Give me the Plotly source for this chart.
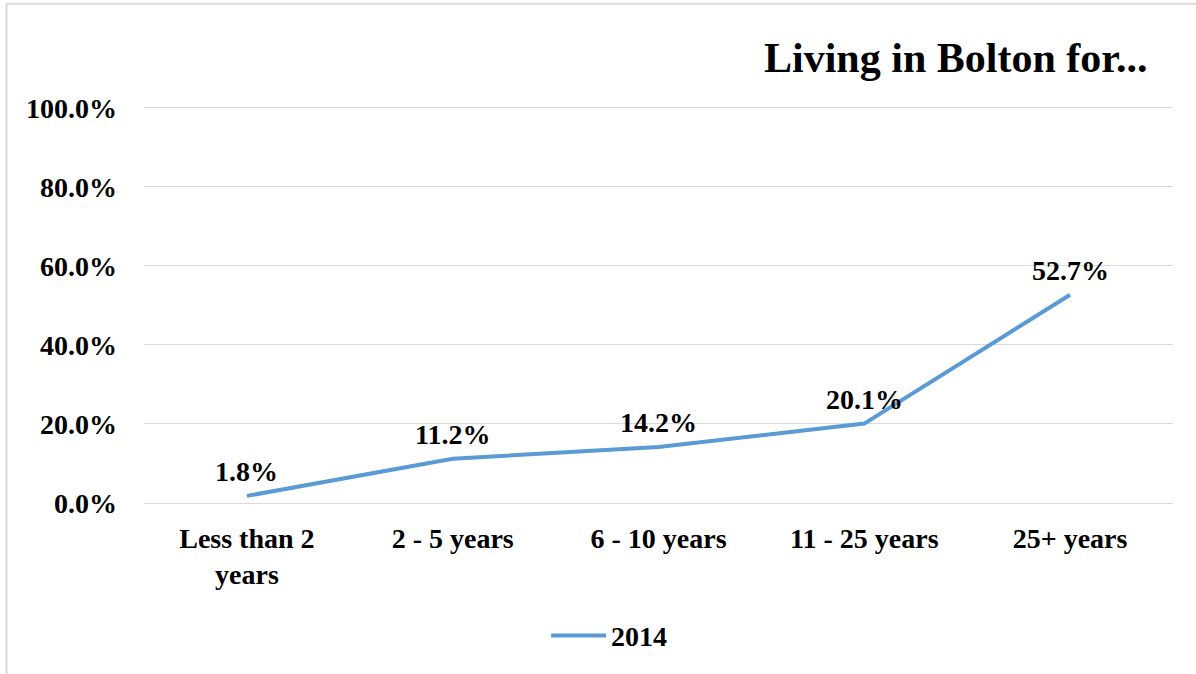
import plotly.graph_objects as go

# Chart data
categories = ['Less than 2<br>years', '2 - 5 years', '6 - 10 years', '11 - 25 years', '25+ years']
share_2014 = [0.018, 0.112, 0.142, 0.201, 0.527]
y_ticks = [0, 0.2, 0.4, 0.6, 0.8, 1.0]

font_family = 'Liberation Serif'
blue = '#5B9BD5'
grid = '#D9D9D9'

fig = go.Figure()
fig.add_trace(go.Scatter(
    x=categories,
    y=share_2014,
    name='<b>2014</b>',
    mode='lines',
    line=dict(color=blue, width=4),
    cliponaxis=False
))

# data labels above each point
labels = [dict(x=c, y=v, text='<b>%.1f%%</b>' % (v * 100), showarrow=False,
               xanchor='center', yanchor='bottom', yshift=7,
               font=dict(family=font_family, size=28, color='black'))
          for c, v in zip(categories, share_2014)]

fig.update_layout(
    width=1196, height=674,
    margin=dict(l=144, r=23, t=104, b=171),
    paper_bgcolor='white',
    plot_bgcolor='white',
    font=dict(family=font_family, size=28, color='black'),
    showlegend=True,
    legend=dict(
        orientation='h', x=0.452, xanchor='center', y=-0.333, yanchor='middle',
        itemwidth=55,
        font=dict(family=font_family, size=28, color='black')
    ),
    xaxis=dict(
        range=[-0.5, 4.5], showgrid=False, showline=False, ticks='',
        tickvals=categories, ticktext=['<b>%s</b>' % c for c in categories],
        tickfont=dict(family=font_family, size=28, color='black'),
        ticklabelstandoff=16
    ),
    yaxis=dict(
        range=[0, 1.01], tickvals=y_ticks,
        ticktext=['<b>%.1f%%</b>' % (v * 100) for v in y_ticks],
        showgrid=True, gridcolor=grid, gridwidth=1,
        zeroline=True, zerolinecolor=grid, zerolinewidth=1,
        showline=False, ticks='',
        tickfont=dict(family=font_family, size=28, color='black'),
        ticklabelstandoff=26
    ),
    shapes=[
        # outer chart border (left and top edges visible)
        dict(type='line', xref='paper', yref='paper', x0=-0.1336, x1=-0.1336, y0=-0.44, y1=1.251,
             line=dict(color=grid, width=2)),
        dict(type='line', xref='paper', yref='paper', x0=-0.1336, x1=1.03, y0=1.251, y1=1.251,
             line=dict(color=grid, width=2)),
    ],
    annotations=labels + [
        dict(text='<b>Living in Bolton for...</b>', xref='paper', yref='paper',
             x=0.978, y=1.115, xanchor='right', yanchor='middle', showarrow=False,
             font=dict(family=font_family, size=42, color='black'))
    ]
)

# drop the default page margin so the figure sits at the window corner
fig.write_html('out.html', config={'displayModeBar': False},
               post_script="document.body.style.margin='0';")
